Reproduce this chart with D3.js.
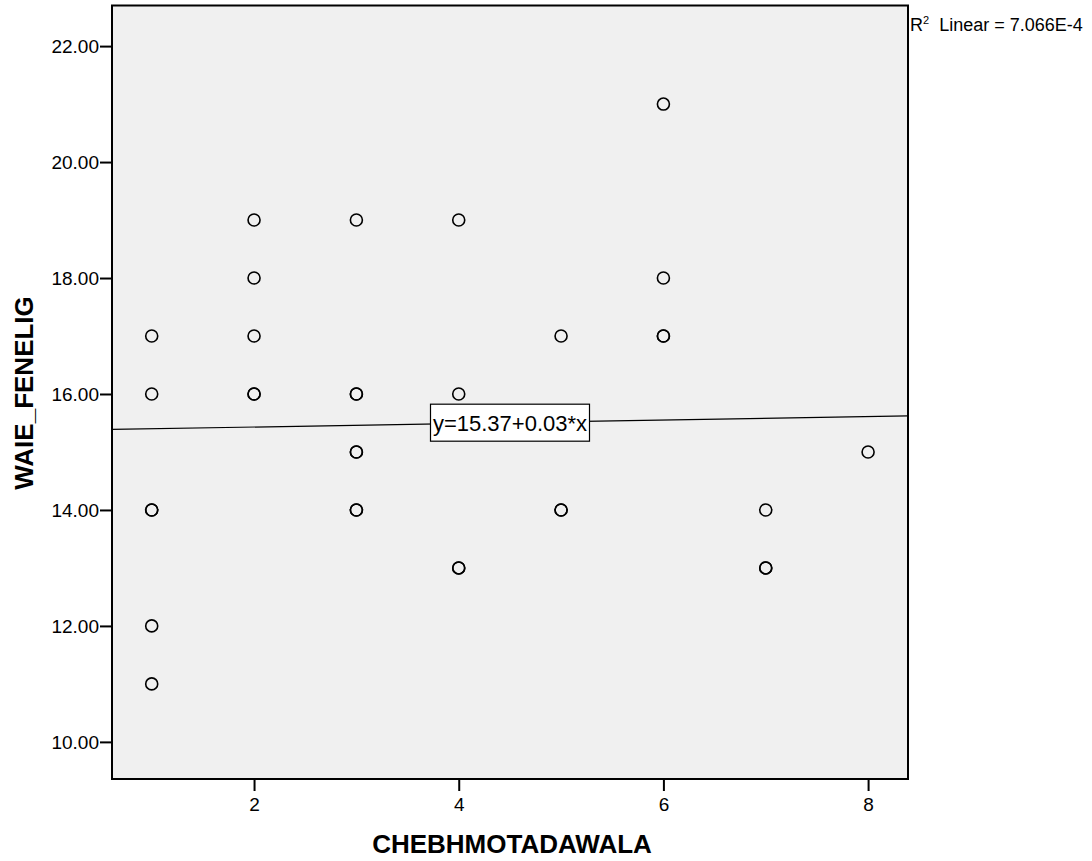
<!DOCTYPE html>
<html><head><meta charset="utf-8">
<script src="https://cdn.jsdelivr.net/npm/d3@7"></script>
<style>body{margin:0;background:#fff}svg{display:block;font-family:"Liberation Sans",Arial,sans-serif}</style>
</head><body><svg id="c" width="1092" height="861"></svg>
<script>
const xVals = [1,1,1,1,1,1, 2,2,2,2,2, 3,3,3,3,3,3,3, 4,4,4,4, 5,5,5, 6,6,6,6, 7,7,7, 8];
const yVals = [17,16,14,14,12,11, 19,18,17,16,16, 19,16,16,15,15,14,14, 19,16,13,13, 17,14,14, 21,18,17,17, 14,13,13, 15];
const xTicks = [2,4,6,8];
const yTicks = [10,12,14,16,18,20,22];
const intercept = 15.37, slope = 0.03;
const fitLabel = "y=15.37+0.03*x";
const r2Text = "7.066E-4";
const xTitle = "CHEBHMOTADAWALA", yTitle = "WAIE_FENELIG";

const svg = d3.select("#c");
const L=112, R=908, T=5.5, B=779;
const x = d3.scaleLinear().domain([0.612, 8.39]).range([L, R]);
const y = d3.scaleLinear().domain([9.36, 22.7]).range([B, T]);

svg.append("rect").attr("x",L).attr("y",T).attr("width",R-L).attr("height",B-T)
  .attr("fill","#f0f0f0");

const xa = svg.append("g").attr("transform",`translate(0,${B})`)
  .call(d3.axisBottom(x).tickValues(xTicks).tickSize(12).tickSizeOuter(0).tickFormat(d3.format("d")));
const ya = svg.append("g").attr("transform",`translate(${L},0)`)
  .call(d3.axisLeft(y).tickValues(yTicks).tickSize(12).tickSizeOuter(0).tickFormat(d3.format(".2f")));
[xa,ya].forEach(a=>{a.select(".domain").remove();
  a.selectAll("line").attr("stroke","#000").attr("stroke-width",2);
  a.selectAll("text").attr("font-size",19).attr("fill","#000").attr("font-family","Liberation Sans, Arial, sans-serif");});
xa.selectAll("text").attr("y",32).attr("dy",0);
ya.selectAll("text").attr("x",-13).attr("dy","0.36em");

// fit line
const xd = x.domain();
svg.append("line").attr("x1",x(xd[0])).attr("x2",x(xd[1]))
  .attr("y1",y(intercept+slope*xd[0])).attr("y2",y(intercept+slope*xd[1]))
  .attr("stroke","#000").attr("stroke-width",1.2);

// points
svg.append("g").selectAll("circle").data(xVals.map((v,i)=>[v,yVals[i]])).join("circle")
  .attr("cx",d=>x(d[0])).attr("cy",d=>y(d[1])).attr("r",6)
  .attr("fill","none").attr("stroke","#000").attr("stroke-width",1.6);

// border
svg.append("rect").attr("x",L).attr("y",T).attr("width",R-L).attr("height",B-T)
  .attr("fill","none").attr("stroke","#000").attr("stroke-width",2);

// fit label
const cx = (L+R)/2, cxv = x.invert(cx), cy = y(intercept+slope*cxv);
svg.append("rect").attr("x",cx-79.5).attr("y",cy-18.5).attr("width",159).attr("height",37)
  .attr("fill","#fff").attr("stroke","#000").attr("stroke-width",1.2);
svg.append("text").attr("x",cx).attr("y",cy).attr("dy","0.36em").attr("text-anchor","middle")
  .attr("font-size",22).text(fitLabel);

// R2
const rt = svg.append("text").attr("x",910).attr("y",31).attr("font-size",18);
rt.append("tspan").text("R");
rt.append("tspan").attr("font-size",11).attr("dy",-7).text("2");
rt.append("tspan").attr("dy",7).attr("xml:space","preserve").text("  Linear = "+r2Text);

// titles
svg.append("text").attr("x",512).attr("y",853).attr("text-anchor","middle")
  .attr("font-size",26).attr("font-weight","bold").text(xTitle);
svg.append("text").attr("transform",`translate(33,${393}) rotate(-90)`).attr("text-anchor","middle")
  .attr("font-size",26).attr("font-weight","bold").text(yTitle);
</script></body></html>
